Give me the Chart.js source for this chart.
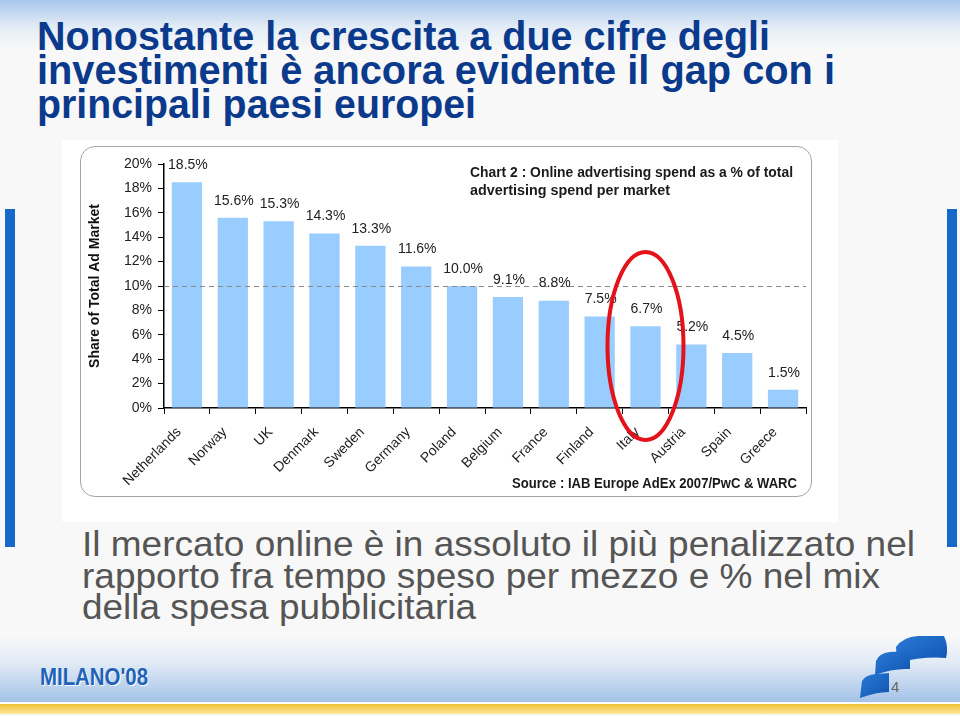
<!DOCTYPE html>
<html><head><meta charset="utf-8">
<script src="https://cdn.jsdelivr.net/npm/chart.js@4.4.1/dist/chart.umd.min.js"></script>
<style>
html,body{margin:0;padding:0;}
body{width:960px;height:716px;position:relative;overflow:hidden;background:#f8f8f8;font-family:"Liberation Sans",Arial,sans-serif;}
#topband{position:absolute;left:0;top:0;width:960px;height:50px;background:linear-gradient(#a9c7ea,#e4edf7 55%,#f8f8f8);}
.t{position:absolute;white-space:nowrap;transform-origin:0 0;display:inline-block;}
.title{color:#0b3a8c;font-weight:bold;font-size:40px;line-height:40px;font-family:"Liberation Sans Narrow","Liberation Sans",Arial,sans-serif;}
.body{color:#555;font-size:35px;line-height:35px;font-family:"Liberation Sans Narrow","Liberation Sans",Arial,sans-serif;}
.ctitle{color:#1a1a1a;font-weight:bold;font-size:14px;line-height:14px;}
.vbar{position:absolute;top:209px;width:10px;height:338px;background:#1469c9;}
#imgbg{position:absolute;left:62px;top:140px;width:776px;height:382px;background:#fff;}
#panel{position:absolute;left:80px;top:146px;width:730px;height:349px;border:1.5px solid #a5a5a5;border-radius:15px;}
#chartbox{position:absolute;left:62px;top:140px;width:776px;height:382px;}
#footband{position:absolute;left:0;top:636px;width:960px;height:66px;background:linear-gradient(rgba(248,248,248,0),#e2ebf6 40%,#a3c3e8);}
#yellow{position:absolute;left:0;top:703px;width:960px;height:10px;background:linear-gradient(#f0bf36,#fde89a);border-top:1px solid #fff;}
.milano{color:#1f63b8;font-weight:bold;font-size:23px;line-height:23px;font-family:"Liberation Sans Narrow","Liberation Sans",Arial,sans-serif;text-shadow:1px 1px 0 #fff;}
.pnum{color:#666;font-size:15px;line-height:15px;}
</style>
</head>
<body>
<div id="topband"></div>
<div class="vbar" style="left:5px"></div>
<div class="vbar" style="left:947px"></div>

<div class="t title fit" data-w="733" style="left:37px;top:16px">Nonostante la crescita a due cifre degli</div>
<div class="t title fit" data-w="798" style="left:37px;top:50px">investimenti è ancora evidente il gap con i</div>
<div class="t title fit" data-w="439" style="left:37px;top:84px">principali paesi europei</div>

<div id="imgbg"></div>
<div id="panel"></div>
<div id="chartbox"><canvas id="c" width="776" height="382"></canvas></div>

<div class="t ctitle fit" data-w="323" style="left:470px;top:165px">Chart 2 : Online advertising spend as a % of total</div>
<div class="t ctitle fit" data-w="200" style="left:470px;top:183px">advertising spend per market</div>
<div class="t ctitle fit" data-w="285" style="left:512px;top:476px">Source : IAB Europe AdEx 2007/PwC &amp; WARC</div>

<div class="t body fit" data-w="833" style="left:82px;top:526px">Il mercato online è in assoluto il più penalizzato nel</div>
<div class="t body fit" data-w="798" style="left:82px;top:558px">rapporto fra tempo speso per mezzo e % nel mix</div>
<div class="t body fit" data-w="394" style="left:82px;top:589px">della spesa pubblicitaria</div>

<div id="footband"></div>
<div id="yellow"></div>
<div class="t milano fit" data-w="108" style="left:40px;top:666px">MILANO'08</div>
<svg style="position:absolute;left:0;top:0" width="960" height="716">
  <defs><linearGradient id="lg" x1="0" y1="0" x2="1" y2="1"><stop offset="0" stop-color="#2a7ad6"/><stop offset="1" stop-color="#0f55b0"/></linearGradient></defs>
  <path d="M896,647 Q903,637 918,636 L944,636 Q949,647 946,658 Q924,656 897,663 Z" fill="url(#lg)"/>
  <path d="M876,661 Q879,653 890,652 L910,651 L910,669 Q893,668 875,675 Z" fill="url(#lg)"/>
  <path d="M862,681 Q865,675 876,674 L889,673 L889,692 Q876,692 860,698 Z" fill="url(#lg)"/>
</svg>
<div class="t pnum" style="left:891px;top:679px">4</div>

<script>
const categories = ['Netherlands','Norway','UK','Denmark','Sweden','Germany','Poland','Belgium','France','Finland','Italy','Austria','Spain','Greece'];
const shareValues = [18.5,15.6,15.3,14.3,13.3,11.6,10.0,9.1,8.8,7.5,6.7,5.2,4.5,1.5];
const yTickValues = [0,2,4,6,8,10,12,14,16,18,20];
const referenceLevel = 10;
const highlightedCategory = 'Italy';
const yAxisTitle = 'Share of Total Ad Market';

const FONT = '"Liberation Sans", Arial, sans-serif';

const annotPlugin = {
  id: 'annot',
  afterDatasetsDraw(chart) {
    const {ctx, chartArea, scales} = chart;
    const y = scales.y.getPixelForValue(referenceLevel);
    ctx.save();
    ctx.strokeStyle = '#8a8a8a';
    ctx.lineWidth = 1;
    ctx.setLineDash([5, 4]);
    ctx.beginPath();
    ctx.moveTo(chartArea.left, Math.round(y) + 0.5);
    ctx.lineTo(chartArea.right, Math.round(y) + 0.5);
    ctx.stroke();
    ctx.setLineDash([]);
    const meta = chart.getDatasetMeta(0);
    ctx.fillStyle = '#222';
    ctx.font = '14px ' + FONT;
    ctx.textAlign = 'center';
    ctx.textBaseline = 'middle';
    meta.data.forEach((bar, i) => {
      ctx.fillText(shareValues[i].toFixed(1) + '%', bar.x + 1, bar.y - 17);
    });
    ctx.restore();
  },
  afterDraw(chart) {
    const {ctx, chartArea, scales} = chart;
    const cx = scales.x.getPixelForValue(categories.indexOf(highlightedCategory));
    const cy = chartArea.bottom - 62;
    ctx.save();
    ctx.strokeStyle = '#e3121b';
    ctx.lineWidth = 4;
    ctx.beginPath();
    ctx.ellipse(cx, cy, 38, 94, 0, 0, Math.PI * 2);
    ctx.stroke();
    ctx.restore();
  }
};

new Chart(document.getElementById('c'), {
  type: 'bar',
  data: {
    labels: categories,
    datasets: [{
      data: shareValues,
      backgroundColor: '#99ccff',
      borderWidth: 0,
      categoryPercentage: 1.0,
      barPercentage: 0.66
    }]
  },
  options: {
    responsive: false,
    animation: false,
    events: [],
    layout: {padding: {left: 20, top: 24, right: 32, bottom: 0}},
    plugins: {legend: {display: false}, tooltip: {enabled: false}, title: {display: false}},
    scales: {
      x: {
        grid: {display: true, drawOnChartArea: false, drawTicks: true, tickLength: 6, color: '#000', offset: true},
        border: {display: true, color: '#000', width: 1.5},
        ticks: {autoSkip: false, maxRotation: 45, minRotation: 45, color: '#222', font: {size: 14, family: FONT}, padding: 10, labelOffset: -8},
        afterFit: s => { s.height = 114; }
      },
      y: {
        min: 0, max: 20,
        afterBuildTicks: s => { s.ticks = yTickValues.map(v => ({value: v})); },
        grid: {display: true, drawOnChartArea: false, drawTicks: true, tickLength: 6, color: '#000'},
        border: {display: true, color: '#000', width: 1.5},
        ticks: {color: '#222', font: {size: 14, family: FONT}, padding: 6, callback: v => v + '%'},
        title: {display: true, text: yAxisTitle, color: '#111', font: {size: 14, weight: 'bold', family: FONT}, padding: {top: 5, bottom: 0}},
        afterFit: s => { s.width = 82; }
      }
    }
  },
  plugins: [annotPlugin]
});

function fitAll() {
  document.querySelectorAll('.fit').forEach(el => {
    el.style.transform = 'none';
    const w = el.getBoundingClientRect().width;
    const target = parseFloat(el.dataset.w);
    if (w > 0) el.style.transform = 'scaleX(' + (target / w).toFixed(4) + ')';
  });
}
fitAll();
if (document.fonts && document.fonts.ready) document.fonts.ready.then(fitAll);
</script>
</body></html>
